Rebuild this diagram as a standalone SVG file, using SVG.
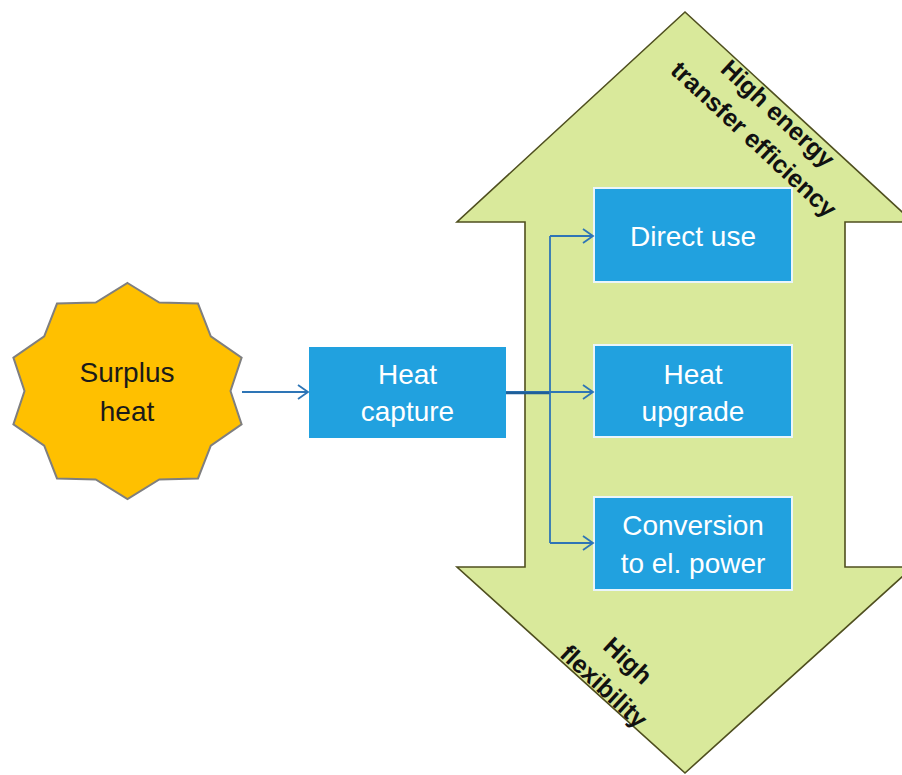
<svg xmlns="http://www.w3.org/2000/svg" width="902" height="775" viewBox="0 0 902 775">
<defs>
<style>
.box{fill:#21A1DF;stroke:#EAF5FB;stroke-width:2}
.wt{font-family:"Liberation Sans",Arial,sans-serif;font-size:28px;fill:#FFFFFF;text-anchor:middle}
.dk{font-family:"Liberation Sans",Arial,sans-serif;font-size:28px;fill:#1A1A1A;text-anchor:middle}
.bd{font-family:"Liberation Sans",Arial,sans-serif;font-size:25px;font-weight:bold;fill:#111111;text-anchor:middle}
.con{fill:none;stroke:#2E75B6;stroke-width:1.8}
</style>
<marker id="arr" markerUnits="userSpaceOnUse" markerWidth="14" markerHeight="16" viewBox="0 0 14 16" refX="12" refY="8" orient="auto">
<path d="M2,1 L12,8 L2,15" fill="none" stroke="#2E75B6" stroke-width="1.8"/>
</marker>
</defs>
<rect width="902" height="775" fill="#FFFFFF"/>
<g id="double-arrow">
<polygon points="685,12 913,222 845,222 845,567 913,567 685,773 457,567 525,567 525,222 457,222" fill="#D9E99B" stroke="#4F4F1F" stroke-width="1.6"/>
<g transform="translate(772,120) rotate(43)">
<text class="bd" x="0" y="0">High energy</text>
<text class="bd" x="0" y="35">transfer efficiency</text>
</g>
<g transform="translate(622,667) rotate(43)">
<text class="bd" x="0" y="0">High</text>
<text class="bd" x="0" y="35">flexibility</text>
</g>
</g>
<g id="surplus-heat">
<polygon points="127.5,283 159.3,302.6 198,303.6 210.8,336.3 241.6,357.6 230.5,391 241.6,424.4 210.8,445.7 198,478.4 159.3,479.4 127.5,499 95.7,479.4 57,478.4 44.2,445.7 13.4,424.4 24.5,391 13.4,357.6 44.2,336.3 57,303.6 95.7,302.6" fill="#FFC000" stroke="#7F7F7F" stroke-width="2"/>
<text class="dk" x="127" y="382">Surplus</text>
<text class="dk" x="127" y="421">heat</text>
</g>
<g id="heat-capture">
<rect x="309" y="347" width="197" height="91" fill="#21A1DF"/>
<text class="wt" x="407.5" y="384">Heat</text>
<text class="wt" x="407.5" y="421">capture</text>
</g>
<g id="direct-use">
<rect class="box" x="594" y="188" width="198" height="94"/>
<text class="wt" x="693" y="246">Direct use</text>
</g>
<g id="heat-upgrade">
<rect class="box" x="594" y="345" width="198" height="92"/>
<text class="wt" x="693" y="384">Heat</text>
<text class="wt" x="693" y="421">upgrade</text>
</g>
<g id="conversion">
<rect class="box" x="594" y="497" width="198" height="93"/>
<text class="wt" x="693" y="535">Conversion</text>
<text class="wt" x="693" y="573">to el. power</text>
</g>
<g id="connectors">
<path class="con" d="M242,392 H308" marker-end="url(#arr)"/>
<path class="con" d="M506,392 H593" marker-end="url(#arr)"/>
<path d="M506,393 H550" fill="none" stroke="#1F5F99" stroke-width="2.6"/>
<path class="con" d="M550,236 V543"/>
<path class="con" d="M550,236 H593" marker-end="url(#arr)"/>
<path class="con" d="M550,543 H593" marker-end="url(#arr)"/>
</g>
</svg>
